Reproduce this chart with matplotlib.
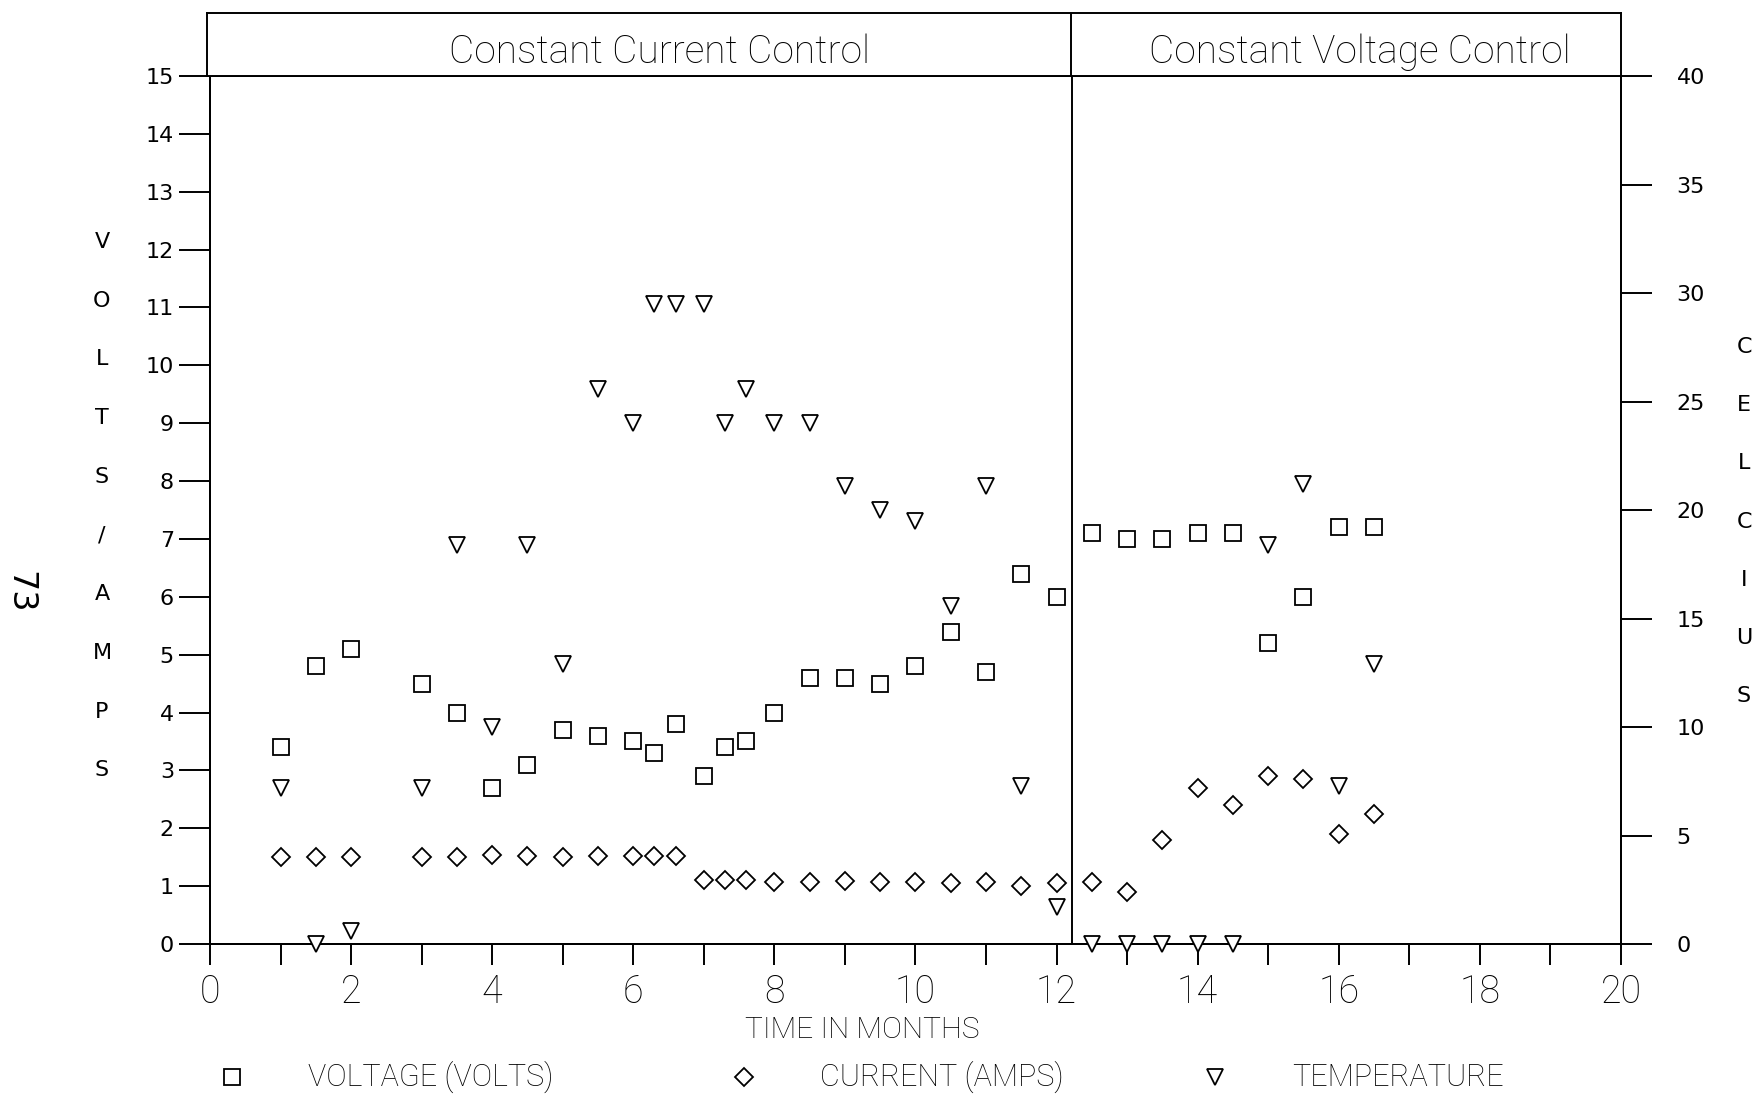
import numpy as np
import matplotlib
matplotlib.use('Agg')
import matplotlib.pyplot as plt
from matplotlib.lines import Line2D

# monthly readings, x in months
months = [1, 1.5, 2, 3, 3.5, 4, 4.5, 5, 5.5, 6, 6.3, 6.6, 7, 7.3, 7.6, 8, 8.5,
          9, 9.5, 10, 10.5, 11, 11.5, 12, 12.5, 13, 13.5, 14, 14.5, 15, 15.5, 16, 16.5]
voltage = [3.4, 4.8, 5.1, 4.5, 4.0, 2.7, 3.1, 3.7, 3.6, 3.5, 3.3, 3.8, 2.9, 3.4, 3.5, 4.0, 4.6,
           4.6, 4.5, 4.8, 5.4, 4.7, 6.4, 6.0, 7.1, 7.0, 7.0, 7.1, 7.1, 5.2, 6.0, 7.2, 7.2]
current = [1.5, 1.5, 1.5, 1.5, 1.5, 1.53, 1.52, 1.5, 1.52, 1.52, 1.52, 1.52, 1.1, 1.1, 1.1, 1.07, 1.07,
           1.09, 1.07, 1.07, 1.05, 1.07, 1.0, 1.05, 1.07, 0.9, 1.8, 2.7, 2.4, 2.9, 2.85, 1.9, 2.25]
temperature = [7.2, 0, 0.6, 7.2, 18.4, 10.0, 18.4, 12.9, 25.6, 24.0, 29.5, 29.5, 29.5, 24.0, 25.6, 24.0, 24.0,
               21.1, 20.0, 19.5, 15.6, 21.1, 7.3, 1.7, 0, 0, 0, 0, 0, 18.4, 21.2, 7.3, 12.9]

switchMonth = 12.22  # change from constant current to constant voltage
sectionNames = ['Constant Current Control', 'Constant Voltage Control']
sectionCentres = [6.4, 16.3]
leftLabel = 'VOLTS/AMPS'
rightLabel = 'CELCIUS'
legendNames = ['VOLTAGE (VOLTS)', 'CURRENT (AMPS)', 'TEMPERATURE']

thin = dict(family=['Roboto', 'DejaVu Sans'], fontweight='light')
lw = 1.4

fig = plt.figure(figsize=(17.59, 10.94), dpi=100)
fig.patch.set_facecolor('white')

axL, axB, axW, axH = 0.1194, 0.1371, 0.8021, 0.7934
ax = fig.add_axes([axL, axB, axW, axH])
ax2 = ax.twinx()

ax.set_xlim(0, 20)
ax.set_ylim(0, 15)
ax2.set_ylim(0, 40)

for a in (ax, ax2):
    for s in a.spines.values():
        s.set_linewidth(lw)

ax.set_xticks(np.arange(0, 21, 2))
ax.set_xticks(np.arange(0, 21, 1), minor=True)
ax.set_xticklabels([str(v) for v in range(0, 21, 2)], fontsize=27, **thin)
ax.tick_params(axis='x', which='both', direction='out', length=15, width=lw, pad=6)
ax.set_yticks(np.arange(0, 16, 1))
ax.set_yticklabels([str(v) for v in range(0, 16)], fontsize=16)
ax.tick_params(axis='y', direction='out', length=22, width=lw, pad=4)
ax2.set_yticks(np.arange(0, 41, 5))
ax2.set_yticklabels([str(v) for v in range(0, 41, 5)], fontsize=16)
ax2.tick_params(axis='y', direction='out', length=22, width=lw, pad=18)

ax.axvline(switchMonth, color='black', lw=lw)

mk = dict(linestyle='none', markerfacecolor='white', markeredgecolor='black', markeredgewidth=1.3, clip_on=False)
ax.plot(months, voltage, marker='s', markersize=11.5, zorder=5, **mk)
ax.plot(months, current, marker='D', markersize=9, zorder=5, **mk)
ax2.plot(months, temperature, marker='v', markersize=12, zorder=5, **mk)

# header strip with the two control regimes
hx = fig.add_axes([axL - 0.0017, axB + axH, axW + 0.0017, 0.9881 - (axB + axH)])
hx.set_xlim(0, 20)
hx.set_ylim(0, 1)
hx.set_xticks([])
hx.set_yticks([])
for s in hx.spines.values():
    s.set_linewidth(lw)
hx.axvline(switchMonth, color='black', lw=lw)
for name, cx in zip(sectionNames, sectionCentres):
    hx.text(cx, 0.38, name, ha='center', va='center', fontsize=28, **thin)

# stacked axis captions
for i, ch in enumerate(leftLabel):
    fig.text(102 / 1759, 1 - (242 + i * 58.7) / 1094, ch, ha='center', va='center', fontsize=16)
for i, ch in enumerate(rightLabel):
    fig.text(1744 / 1759, 1 - (347 + i * 58.2) / 1094, ch, ha='center', va='center', fontsize=16)

fig.text(20 / 1759, 1 - 592 / 1094, '73', rotation=-90, ha='center', va='center', fontsize=24)
fig.text(862 / 1759, 1 - 1030 / 1094, 'TIME IN MONTHS', ha='center', va='center', fontsize=21.5, **thin)

# legend row along the bottom
legMarkers = ['s', 'D', 'v']
legSizes = [11.5, 9, 12]
markerX = [232, 744, 1215]
textX = [308, 820, 1292]
legY = 1 - 1077 / 1094
for m, sz, mx, tx, name in zip(legMarkers, legSizes, markerX, textX, legendNames):
    fig.add_artist(Line2D([mx / 1759], [legY], marker=m, markersize=sz, transform=fig.transFigure, **mk))
    fig.text(tx / 1759, legY, name, ha='left', va='center', fontsize=22, **thin)

plt.savefig('out.png', dpi=100, facecolor='white')
